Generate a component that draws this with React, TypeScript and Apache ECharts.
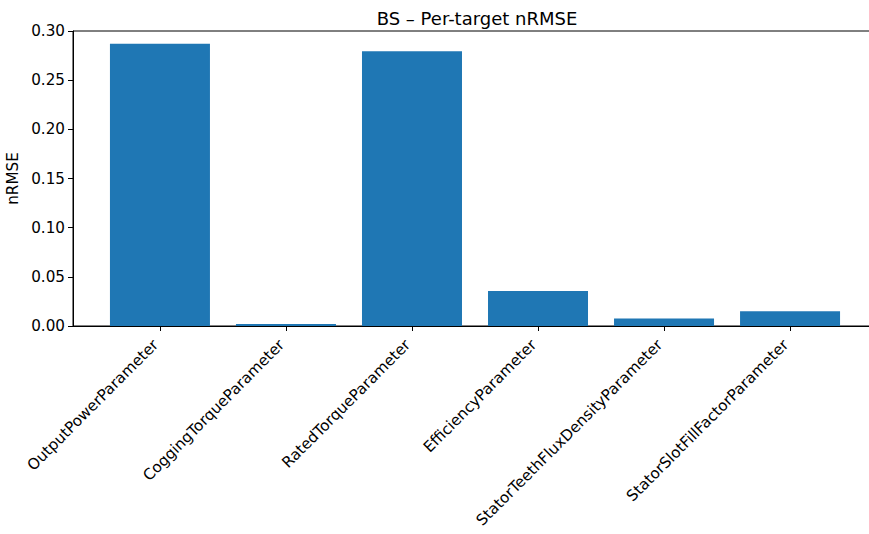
import React, { useEffect, useRef } from "react";
import * as echarts from "echarts";

const categories = [
  "OutputPowerParameter",
  "CoggingTorqueParameter",
  "RatedTorqueParameter",
  "EfficiencyParameter",
  "StatorTeethFluxDensityParameter",
  "StatorSlotFillFactorParameter",
];
const nrmseValues = [0.287, 0.002, 0.2795, 0.0356, 0.0077, 0.0149];
const yTicks = [0, 0.05, 0.1, 0.15, 0.2, 0.25, 0.3];

const FONT = "'DejaVu Sans', sans-serif";

export default function App() {
  const ref = useRef<HTMLDivElement>(null);

  useEffect(() => {
    document.body.style.margin = "0";
    document.body.style.overflow = "hidden";
    if (!ref.current) return;
    const chart = echarts.init(ref.current, null, { renderer: "svg" });
    const positions = categories.map((_, i) => i);
    chart.setOption({
      animation: false,
      backgroundColor: "#ffffff",
      title: {
        text: "BS – Per-target nRMSE",
        left: 472,
        top: 4,
        textAlign: "center",
        textStyle: { fontFamily: FONT, fontSize: 18, fontWeight: "normal", color: "#000" },
      },
      grid: {
        left: 73,
        top: 31,
        width: 804,
        height: 295,
        show: true,
        borderColor: "#000",
        borderWidth: 1,
        containLabel: false,
        outerBoundsMode: "none",
      },
      xAxis: {
        type: "value",
        min: -0.69,
        max: 5.69,
        splitLine: { show: false },
        axisLine: { show: true, onZero: false, lineStyle: { color: "#000", width: 1 } },
        axisTick: {
          show: true,
          length: 5,
          inside: false,
          lineStyle: { color: "#000" },
          customValues: positions,
        },
        axisLabel: {
          customValues: positions,
          rotate: 45,
          margin: 12,
          padding: [0, 6, 0, 0],
          fontFamily: FONT,
          fontSize: 15.2,
          color: "#000",
          formatter: (v: number) => categories[Math.round(v)] ?? "",
        },
      },
      yAxis: {
        type: "value",
        min: 0,
        max: 0.3,
        interval: 0.05,
        name: "nRMSE",
        nameLocation: "middle",
        nameGap: 45,
        nameTextStyle: { fontFamily: FONT, fontSize: 15.2, color: "#000" },
        splitLine: { show: false },
        axisLine: { show: true, onZero: false, lineStyle: { color: "#000", width: 1 } },
        axisTick: { show: true, length: 5, lineStyle: { color: "#000" } },
        axisLabel: {
          fontFamily: FONT,
          fontSize: 15.2,
          color: "#000",
          margin: 8,
          customValues: yTicks,
          formatter: (v: number) => v.toFixed(2),
        },
      },
      series: [
        {
          type: "bar",
          data: nrmseValues.map((v, i) => [i, v]),
          barWidth: 100,
          itemStyle: { color: "#1f77b4" },
        },
      ],
    });
    return () => chart.dispose();
  }, []);

  return <div ref={ref} style={{ width: 869, height: 534, overflow: "hidden" }} />;
}
